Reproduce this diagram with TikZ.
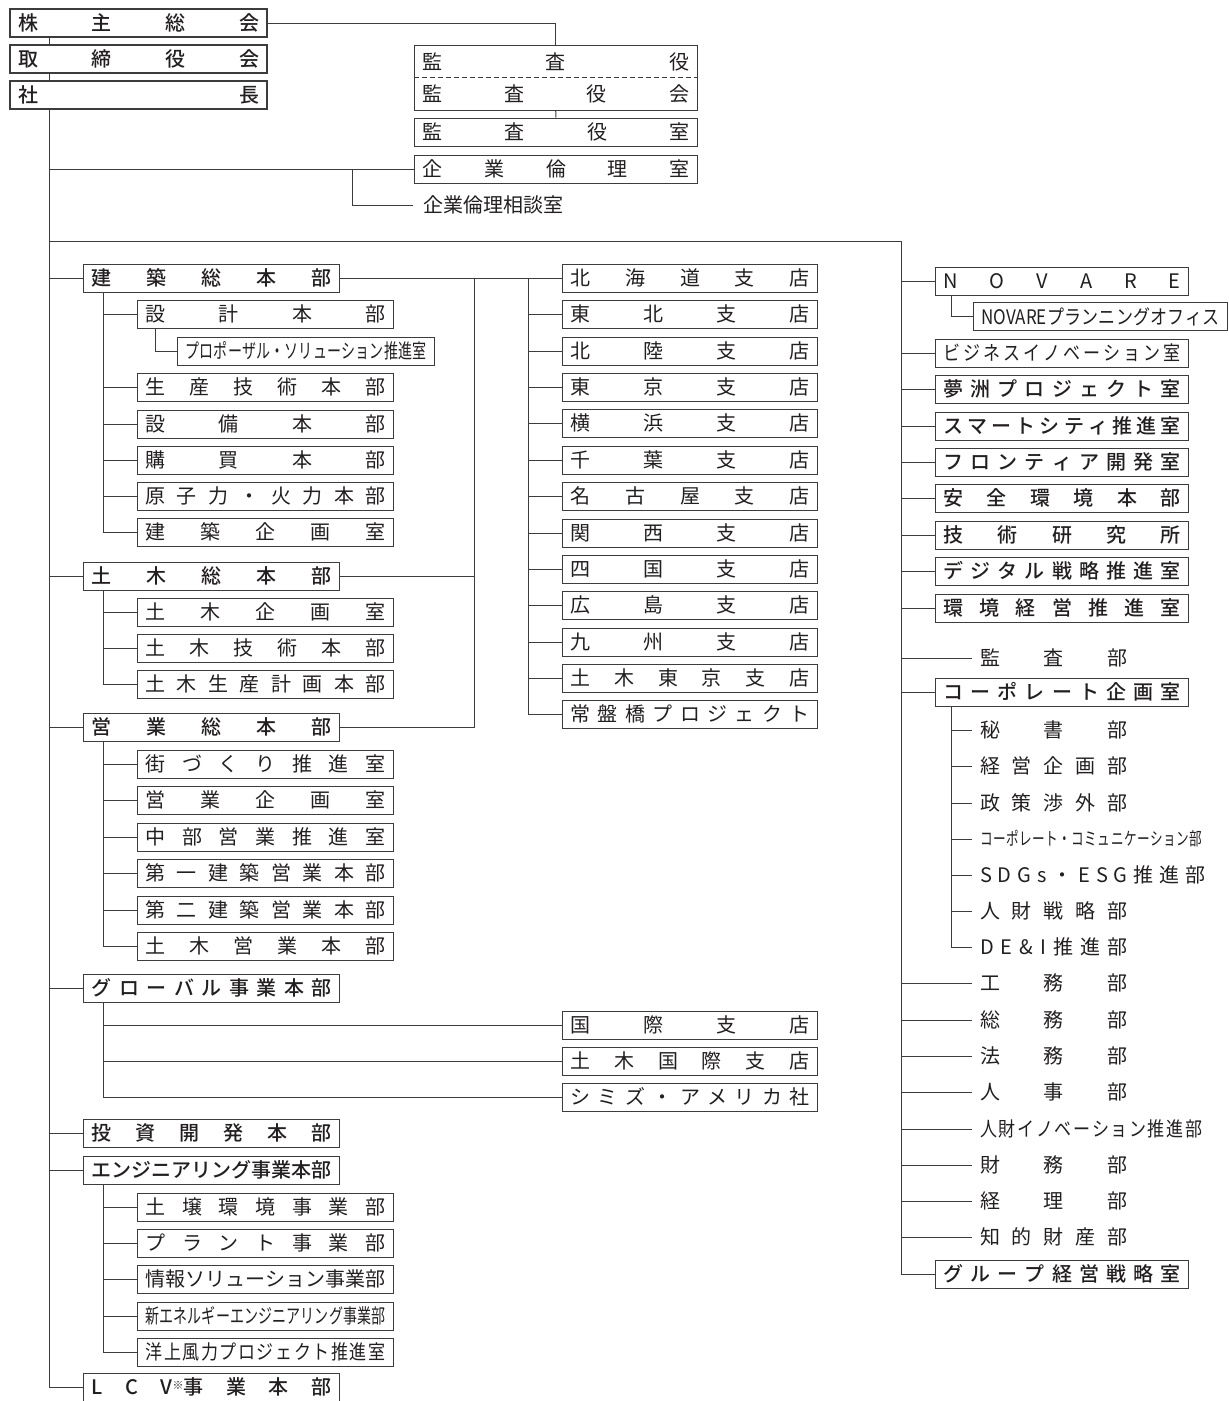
\documentclass[tikz,border=0pt]{standalone}
\usepackage{fontspec}
\setmainfont{Noto Sans CJK JP}[BoldFont={Noto Sans CJK JP Medium}]
\newfontfamily\jpm[FakeStretch=0.85]{Noto Sans CJK JP}
\newfontfamily\jpn[FakeStretch=0.7]{Noto Sans CJK JP}
\usetikzlibrary{fit}
\definecolor{cline}{HTML}{3C3C3C}
\definecolor{ctext}{HTML}{231F20}

% spread the characters of #1 over the whole line
\makeatletter
\def\dist#1{\hbox to\hsize{\expandafter\dist@first#1\dist@end}}
\def\dist@first#1{#1\dist@next}
\def\dist@next#1{\def\dist@tmp{#1}\ifx\dist@tmp\dist@endm\else\hfill#1\expandafter\dist@next\fi}
\def\dist@endm{\dist@end}
\makeatother

\tikzset{
  jfont/.style={font=\fontsize{20}{24}\selectfont},
  cell/.style={draw=cline, line width=1pt, anchor=west, minimum height=28pt, inner xsep=8pt, inner ysep=0pt, text=ctext, jfont, text width=#1},
  cell/.default=240pt,
  topbox/.style={cell=241pt, line width=2.2pt, font=\fontsize{20}{24}\selectfont\bfseries},
  hq/.style={cell=240pt, font=\fontsize{20}{24}\selectfont\bfseries},
  unit/.style={cell=240pt},
  branch/.style={cell=239pt},
  staff/.style={cell=237pt, font=\fontsize{20}{24}\selectfont\bfseries},
  item/.style={anchor=west, inner xsep=8pt, inner ysep=0pt, minimum height=28pt, text=ctext, jfont, text width=#1},
  item/.default=147pt,
  link/.style={draw=cline, line width=1pt},
}

\begin{document}
\begin{tikzpicture}[x=1pt, y=-1pt]
  \useasboundingbox (0,0) rectangle (1229,1401);
  \coordinate (trunk) at (49,0);
  \coordinate (rtrunk) at (901,241);
  \coordinate (sj) at (352,169);
  \coordinate (hj) at (474,278);
  \coordinate (bj) at (528,278);

  % top of the company
  \node[topbox] (kabu) at (9,23) {\dist{株主総会}};
  \node[topbox] (tori) at (9,59) {\dist{取締役会}};
  \node[topbox] (shacho) at (9,95) {\dist{社長}};

  % auditors
  \node[item=267pt, minimum height=32pt] (kansa) at (414,61.5) {\dist{監査役}};
  \node[item=267pt, minimum height=32pt] (kansakai) at (414,94) {\dist{監査役会}};
  \node[draw=cline, line width=1pt, fit=(kansa)(kansakai), inner sep=0pt] (kbox) {};
  \draw[link, dash pattern=on 5pt off 3pt] (kansa.south west) -- (kansa.south east);
  \node[cell=267pt] (kshitsu) at (414,132) {\dist{監査役室}};
  \node[cell=267pt] (rinri) at (414,169) {\dist{企業倫理室}};
  \node[anchor=west, inner xsep=10pt, text=ctext, jfont] (soudan) at (413,205) {企業倫理相談室};

  % head offices on the left
  \foreach \n/\y/\t in {kenchiku/278/建築総本部, doboku/576/土木総本部, eigyo/727/営業総本部,
      global/988/グローバル事業本部, toushi/1133/投資開発本部, engi/1170/エンジニアリング事業本部}
    \node[hq] (\n) at (83,\y) {\dist{\t}};
  \node[hq] (lcv) at (83,1387) {\dist{LC{V\raisebox{5pt}{\fontsize{11}{11}\selectfont ※}事}業本部}};

  \foreach \n/\y/\t in {sekkei/314/設計本部, seisan/387/生産技術本部, setsubi/424/設備本部,
      kobai/460/購買本部, genshi/496/原子力・火力本部, kkikaku/532/建築企画室,
      dkikaku/612/土木企画室, dgijutsu/648/土木技術本部, dseisan/684/土木生産計画本部,
      machi/764/街づくり推進室, ekikaku/800/営業企画室, chubu/837/中部営業推進室,
      daiichi/873/第一建築営業本部, daini/910/第二建築営業本部, deigyo/946/土木営業本部,
      dojo/1207/土壌環境事業部, plant/1243/プラント事業部, joho/1279/情報ソリューション事業部}
    \node[unit] (\n) at (137,\y) {\dist{\t}};
  \node[unit, font=\fontsize{20}{24}\jpn] (shinene) at (137,1316) {\dist{新エネルギーエンジニアリング事業部}};
  \node[unit, font=\fontsize{20}{24}\jpm] (yojo) at (137,1352) {\dist{洋上風力プロジェクト推進室}};
  \node[cell=241pt, font=\fontsize{20}{24}\jpn] (proposal) at (177,351) {\dist{プロポーザル・ソリューション推進室}};

  % branches
  \foreach \n/\y/\t in {hokkaido/278/北海道支店, tohoku/314/東北支店, hokuriku/351/北陸支店,
      tokyo/387/東京支店, yokohama/423/横浜支店, chiba/460/千葉支店, nagoya/496/名古屋支店,
      kansai/533/関西支店, shikoku/569/四国支店, hiroshima/605/広島支店, kyushu/642/九州支店,
      dtokyo/678/土木東京支店, tokiwa/714/常盤橋プロジェクト,
      kokusai/1025/国際支店, dkokusai/1061/土木国際支店, america/1097/シミズ・アメリカ社}
    \node[branch] (\n) at (562,\y) {\dist{\t}};

  % staff on the right
  \node[cell=237pt] (novare) at (935,281) {\dist{NOVARE}};
  \node[cell=238pt, font=\fontsize{20}{24}\jpm] (nplan) at (973,316.5) {\dist{{NOVARE}プランニングオフィス}};
  \node[cell=237pt, font=\fontsize{20}{24}\jpm] (bizinno) at (935,353) {\dist{ビジネスイノベーション室}};
  \foreach \n/\y/\t in {yume/389/夢洲プロジェクト室, smart/426/スマートシティ推進室,
      frontier/462/フロンティア開発室, anzen/498/安全環境本部, giken/535/技術研究所,
      digital/571/デジタル戦略推進室, kankyo/608/環境経営推進室, corp/692/コーポレート企画室,
      gkeiei/1274/グループ経営戦略室}
    \node[staff] (\n) at (935,\y) {\dist{\t}};

  \foreach \n/\y/\t in {kansabu/658/監査部, hisho/730/秘書部, keiki/766/経営企画部,
      seisaku/803/政策渉外部, jinzai/911/人財戦略部, dei/947/DE\&I推進部,
      koumu/983/工務部, soumu/1020/総務部, houmu/1056/法務部, jinji/1092/人事部,
      zaimu/1165/財務部, keiri/1201/経理部, chiteki/1237/知的財産部}
    \node[item] (\n) at (972,\y) {\dist{\t}};
  \node[item=222pt, font=\fontsize{18}{22}\jpn] (comm) at (972,839) {\dist{コーポレート・コミュニケーション部}};
  \node[item=225pt] (sdgs) at (972,875) {\dist{SDGs・ESG推進部}};
  \node[item=222pt, font=\fontsize{20}{24}\jpm] (jinno) at (972,1129) {\dist{人財イノベーション推進部}};

  % connectors
  \draw[link] (kabu.east) -| (kbox.north);
  \draw[link] (kbox.south) -- (kshitsu.north);
  \draw[link] (kabu.south -| trunk) -- (tori.north -| trunk);
  \draw[link] (tori.south -| trunk) -- (shacho.north -| trunk);
  \draw[link] (shacho.south -| trunk) |- (lcv.west);
  \draw[link] (rinri.west -| trunk) -- (rinri.west);
  \draw[link] (sj) |- (soudan.west);
  \draw[link] (rtrunk -| trunk) -- (rtrunk) |- (gkeiei.west);
  \foreach \n in {kenchiku, doboku, eigyo, global, toushi, engi}
    \draw[link] (\n.west -| trunk) -- (\n.west);
  \foreach \n in {sekkei, seisan, setsubi, kobai, genshi, kkikaku}
    \draw[link] ([xshift=20pt]kenchiku.south west) |- (\n.west);
  \draw[link] ([xshift=18pt]sekkei.south west) |- (proposal.west);
  \foreach \n in {dkikaku, dgijutsu, dseisan}
    \draw[link] ([xshift=20pt]doboku.south west) |- (\n.west);
  \foreach \n in {machi, ekikaku, chubu, daiichi, daini, deigyo}
    \draw[link] ([xshift=20pt]eigyo.south west) |- (\n.west);
  \foreach \n in {kokusai, dkokusai, america}
    \draw[link] ([xshift=20pt]global.south west) |- (\n.west);
  \foreach \n in {dojo, plant, joho, shinene, yojo}
    \draw[link] ([xshift=20pt]engi.south west) |- (\n.west);
  \draw[link] (kenchiku.east) -- (hokkaido.west);
  \draw[link] (doboku.east) -- (doboku.east -| hj);
  \draw[link] (eigyo.east) -| (hj);
  \foreach \n in {tohoku, hokuriku, tokyo, yokohama, chiba, nagoya, kansai, shikoku,
      hiroshima, kyushu, dtokyo, tokiwa}
    \draw[link] (bj) |- (\n.west);
  \draw[link] ([xshift=16pt]novare.south west) |- (nplan.west);
  \foreach \n in {novare, bizinno, yume, smart, frontier, anzen, giken, digital, kankyo,
      kansabu, corp, koumu, soumu, houmu, jinji, jinno, zaimu, keiri, chiteki}
    \draw[link] (\n.west -| rtrunk) -- (\n.west);
  \foreach \n in {hisho, keiki, seisaku, comm, sdgs, jinzai, dei}
    \draw[link] ([xshift=16pt]corp.south west) |- (\n.west);
\end{tikzpicture}
\end{document}
